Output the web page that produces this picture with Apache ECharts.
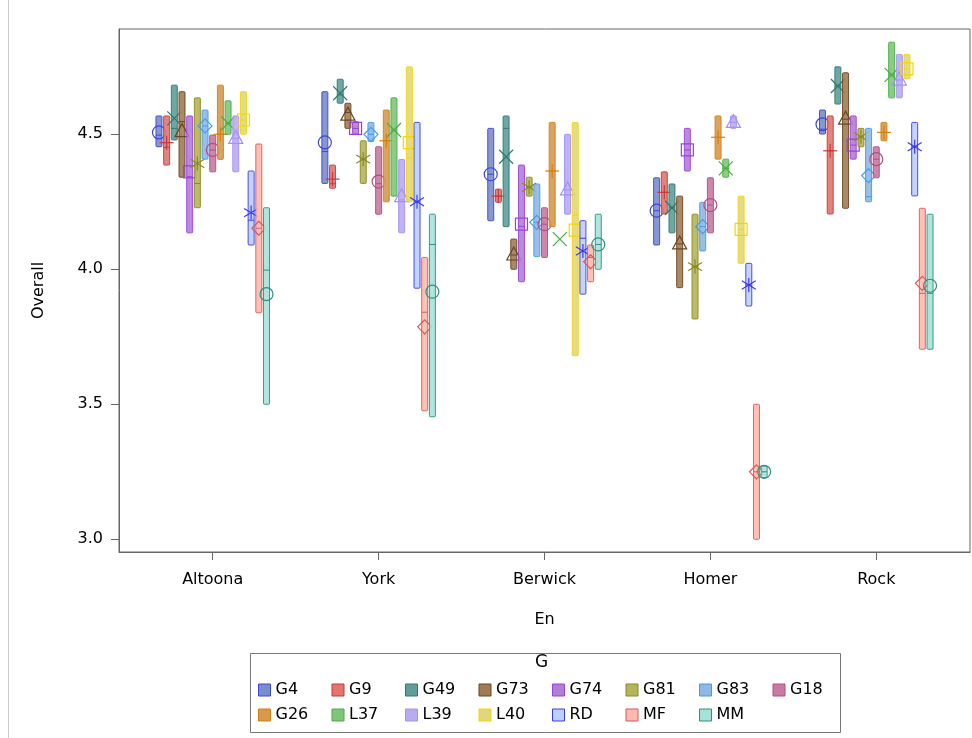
<!DOCTYPE html>
<html>
<head>
<meta charset="utf-8">
<script src="https://cdn.jsdelivr.net/npm/echarts@6/dist/echarts.min.js"></script>
<style>
  html, body { margin: 0; padding: 0; background: #fff; }
  #chart { width: 972px; height: 738px; }
</style>
</head>
<body>
<div id="chart"></div>
<script>
// categories on the x axis
var categories = ['Altoona', 'York', 'Berwick', 'Homer', 'Rock'];
// groups (legend order)
var groups = ['G4', 'G9', 'G49', 'G73', 'G74', 'G81', 'G83', 'G18',
              'G26', 'L37', 'L39', 'L40', 'RD', 'MF', 'MM'];
var yTicks = [3.0, 3.5, 4.0, 4.5];

// one row per group, one column per category
var lowVals = [
  [4.453, 4.317, 4.179, 4.089, 4.500],
  [4.385, 4.299, 4.247, 4.204, 4.204],
  [4.478, 4.614, 4.157, 4.134, 4.611],
  [4.340, 4.521, 3.999, 3.931, 4.225],
  [4.134, 4.499, 3.953, 4.363, 4.407],
  [4.227, 4.317, 4.270, 3.815, 4.453],
  [4.407, 4.472, 4.046, 4.067, 4.249],
  [4.360, 4.203, 4.043, 4.134, 4.338],
  [4.406, 4.249, 4.157, 4.407, 4.475],
  [4.499, 4.270, 4.111, 4.340, 4.634],
  [4.360, 4.134, 4.203, 4.521, 4.634],
  [4.499, 4.249, 3.679, 4.021, 4.704],
  [4.089, 3.929, 3.907, 3.863, 4.271],
  [3.838, 3.475, 3.953, 2.999, 3.703],
  [3.499, 3.453, 3.999, 3.227, 3.703]
];
var highVals = [
  [4.567, 4.657, 4.521, 4.338, 4.589],
  [4.567, 4.385, 4.296, 4.360, 4.567],
  [4.681, 4.703, 4.567, 4.315, 4.749],
  [4.657, 4.614, 4.111, 4.270, 4.727],
  [4.567, 4.546, 4.385, 4.521, 4.567],
  [4.634, 4.475, 4.340, 4.203, 4.521],
  [4.589, 4.543, 4.315, 4.247, 4.521],
  [4.496, 4.453, 4.227, 4.338, 4.453],
  [4.681, 4.589, 4.543, 4.567, 4.543],
  [4.623, 4.634, 4.111, 4.407, 4.840],
  [4.567, 4.406, 4.499, 4.567, 4.795],
  [4.657, 4.749, 4.543, 4.270, 4.795],
  [4.363, 4.543, 4.179, 4.021, 4.543],
  [4.463, 4.043, 4.089, 3.499, 4.225],
  [4.227, 4.203, 4.203, 3.270, 4.203]
];
var meanVals = [
  [4.506, 4.469, 4.351, 4.216, 4.536],
  [4.468, 4.333, 4.270, 4.284, 4.438],
  [4.558, 4.651, 4.416, 4.227, 4.678],
  [4.509, 4.570, 4.052, 4.093, 4.555],
  [4.360, 4.521, 4.166, 4.441, 4.459],
  [4.391, 4.407, 4.303, 4.009, 4.490],
  [4.530, 4.499, 4.173, 4.157, 4.346],
  [4.441, 4.324, 4.166, 4.237, 4.407],
  [4.499, 4.475, 4.363, 4.488, 4.506],
  [4.540, 4.515, 4.111, 4.373, 4.719],
  [4.484, 4.268, 4.293, 4.543, 4.700],
  [4.552, 4.468, 4.144, 4.147, 4.741],
  [4.209, 4.249, 4.067, 3.941, 4.453],
  [4.151, 3.786, 4.027, 3.249, 3.947],
  [3.907, 3.916, 4.091, 3.249, 3.938]
];
var medianVals = [
  [4.496, 4.435, 4.351, 4.216, 4.518],
  [4.451, 4.316, 4.270, 4.284, 4.438],
  [4.521, 4.645, 4.521, 4.227, 4.678],
  [4.546, 4.580, 4.052, 4.093, 4.555],
  [4.342, 4.521, 4.158, 4.441, 4.459],
  [4.317, 4.407, 4.303, 4.009, 4.490],
  [4.530, 4.499, 4.173, 4.157, 4.268],
  [4.441, 4.316, 4.166, 4.237, 4.407],
  [4.499, 4.475, 4.363, 4.488, 4.506],
  [4.540, 4.515, 4.111, 4.373, 4.719],
  [4.484, 4.256, 4.293, 4.543, 4.700],
  [4.552, 4.411, 4.200, 4.147, 4.741],
  [4.181, 4.249, 4.114, 3.941, 4.453],
  [4.151, 3.840, 4.043, 3.249, 3.910],
  [3.996, 4.091, 4.091, 3.249, 3.910]
];

// styling per group
var fillColors = ['#7a8dcc', '#e0776e', '#5f9e98', '#a07c55', '#b07fd4', '#b4b45a', '#8fb8e3', '#c97aa2',
                  '#d59a4e', '#80c67a', '#b9aaf2', '#e2d57e', '#bcd0ff', '#ffb9ad', '#a6e2d8'];
var lineColors = ['#3b46d6', '#c9393e', '#2d7a72', '#6b4520', '#9b3fe0', '#8a8a25', '#3f9cf2', '#b44d82',
                  '#d87f10', '#4aae44', '#a490f3', '#f2d800', '#3b3be8', '#d9595a', '#2f8f82'];
var symbols = ['circle', 'plus', 'x', 'triangle', 'square', 'asterisk', 'diamond'];

var FONT = 'DejaVu Sans';
var groupStep = 0.0463;

function markerShapes(sym, cx, cy, color) {
  var st = { stroke: color, fill: 'none', lineWidth: 1.2 };
  var s = 7;
  function ln(x1, y1, x2, y2) {
    return { type: 'line', shape: { x1: x1, y1: y1, x2: x2, y2: y2 }, style: st };
  }
  switch (sym) {
    case 'circle':
      return [{ type: 'circle', shape: { cx: cx, cy: cy, r: 6.5 }, style: st }];
    case 'plus':
      return [ln(cx - s, cy, cx + s, cy), ln(cx, cy - s, cx, cy + s)];
    case 'x':
      return [ln(cx - s, cy - s, cx + s, cy + s), ln(cx - s, cy + s, cx + s, cy - s)];
    case 'triangle':
      return [{ type: 'polygon', shape: { points: [[cx, cy - 8], [cx - 7, cy + 5], [cx + 7, cy + 5]] }, style: st }];
    case 'square':
      return [{ type: 'rect', shape: { x: cx - 6, y: cy - 6, width: 12, height: 12 }, style: st }];
    case 'asterisk':
      return [ln(cx, cy - s, cx, cy + s), ln(cx - s, cy - s * 0.6, cx + s, cy + s * 0.6),
              ln(cx - s, cy + s * 0.6, cx + s, cy - s * 0.6)];
    case 'diamond':
      return [{ type: 'polygon', shape: { points: [[cx, cy - 7], [cx + 7, cy], [cx, cy + 7], [cx - 7, cy]] }, style: st }];
  }
  return [];
}

var series = groups.map(function (name, g) {
  var data = categories.map(function (c, i) {
    return [i + (g - 7) * groupStep, lowVals[g][i], highVals[g][i], meanVals[g][i], medianVals[g][i]];
  });
  return {
    name: name,
    type: 'custom',
    data: data,
    encode: { x: 0, y: [1, 2] },
    itemStyle: { color: fillColors[g], borderColor: lineColors[g] },
    renderItem: function (params, api) {
      var x = api.value(0);
      var pLow = api.coord([x, api.value(1)]);
      var pHigh = api.coord([x, api.value(2)]);
      var pMean = api.coord([x, api.value(3)]);
      var pMed = api.coord([x, api.value(4)]);
      var children = [];
      var h = pLow[1] - pHigh[1];
      if (h > 0.5) {
        children.push({
          type: 'rect',
          shape: { x: pLow[0] - 3, y: pHigh[1], width: 6, height: h, r: 1 },
          style: { fill: fillColors[g], stroke: lineColors[g], lineWidth: 1, opacity: 0.9 }
        });
        children.push({
          type: 'line',
          shape: { x1: pMed[0] - 3, y1: pMed[1], x2: pMed[0] + 3, y2: pMed[1] },
          style: { stroke: lineColors[g], lineWidth: 1 }
        });
      }
      children = children.concat(markerShapes(symbols[g % 7], pMean[0], pMean[1], lineColors[g]));
      return { type: 'group', children: children };
    }
  };
});

var chart = echarts.init(document.getElementById('chart'));
chart.setOption({
  backgroundColor: '#fff',
  animation: false,
  grid: {
    left: 119, top: 29, right: 2, bottom: 186,
    show: true, borderColor: '#666', borderWidth: 1
  },
  xAxis: {
    type: 'value',
    min: -0.565,
    max: 4.565,
    name: 'En',
    nameLocation: 'middle',
    nameGap: 60,
    nameTextStyle: { fontFamily: FONT, fontSize: 16, color: '#000' },
    axisLine: { show: true, onZero: false, lineStyle: { color: '#666' } },
    axisTick: { show: true, length: 8, customValues: [0, 1, 2, 3, 4], lineStyle: { color: '#666' } },
    axisLabel: {
      customValues: [0, 1, 2, 3, 4],
      margin: 20,
      fontFamily: FONT, fontSize: 16, color: '#000',
      formatter: function (v) { return categories[Math.round(v)]; }
    },
    splitLine: { show: false }
  },
  yAxis: {
    type: 'value',
    min: 2.952,
    max: 4.889,
    name: 'Overall',
    nameLocation: 'middle',
    nameGap: 72,
    nameTextStyle: { fontFamily: FONT, fontSize: 16, color: '#000' },
    axisLine: { show: true, onZero: false, lineStyle: { color: '#666' } },
    axisTick: { show: true, length: 8, customValues: yTicks, lineStyle: { color: '#666' } },
    axisLabel: {
      customValues: yTicks,
      margin: 16,
      fontFamily: FONT, fontSize: 16, color: '#000',
      formatter: function (v) { return v.toFixed(1); }
    },
    splitLine: { show: false }
  },
  legend: {
    left: 258,
    top: 682,
    width: 590,
    padding: 0,
    itemGap: 9,
    itemWidth: 12,
    itemHeight: 12,
    icon: 'rect',
    textStyle: { fontFamily: FONT, fontSize: 16, color: '#000', width: 47, lineHeight: 16 },
    data: groups.map(function (name, g) {
      return { name: name, itemStyle: { color: fillColors[g], borderColor: lineColors[g], borderWidth: 1 } };
    })
  },
  graphic: [
    {
      type: 'rect', left: 248, top: 651,
      shape: { width: 590, height: 79 },
      style: { fill: 'none', stroke: '#777', lineWidth: 1 }
    },
    {
      type: 'text', left: 535, top: 654,
      style: { text: 'G', font: '17px "DejaVu Sans"', fill: '#000' }
    },
    {
      type: 'line',
      shape: { x1: 8.5, y1: 0, x2: 8.5, y2: 738 },
      style: { stroke: '#ccc', lineWidth: 1 }
    }
  ],
  series: series
});
</script>
</body>
</html>
